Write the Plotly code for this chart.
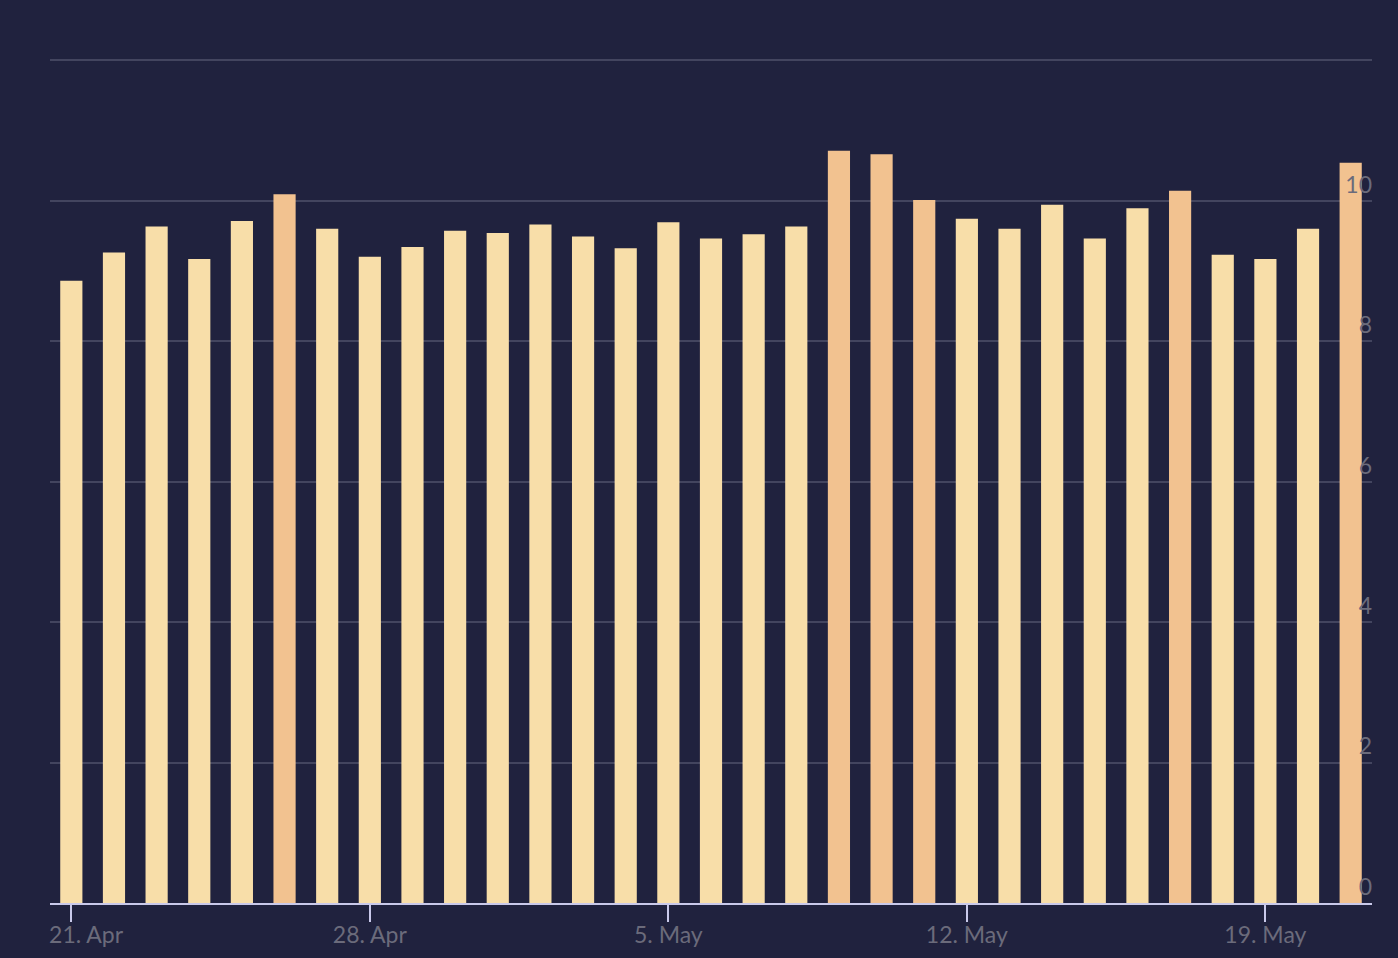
import plotly.graph_objects as go
import pandas as pd

dates = pd.date_range("2024-04-21", "2024-05-21", freq="D")
values = [8.86, 9.26, 9.63, 9.17, 9.71, 10.09, 9.60, 9.20, 9.34, 9.57,
          9.54, 9.66, 9.49, 9.32, 9.69, 9.46, 9.52, 9.63, 10.71, 10.66,
          10.01, 9.74, 9.60, 9.94, 9.46, 9.89, 10.14, 9.23, 9.17, 9.60, 10.54]
threshold = 10
light_color = "#f8dea9"
high_color = "#f2c290"
colors = [high_color if v >= threshold else light_color for v in values]

x_tickvals = ["2024-04-21", "2024-04-28", "2024-05-05", "2024-05-12", "2024-05-19"]
x_ticktext = ["\u00a0" * 5 + "21. Apr", "28. Apr", "5. May", "12. May", "19. May"]
y_tickvals = [0, 2, 4, 6, 8, 10, 12]
y_ticktext = ["0", "2", "4", "6", "8", "10", ""]

bg = "#20223e"
label_color = "#6b6b7b"
fig = go.Figure(go.Bar(x=dates, y=values, marker=dict(color=colors, line=dict(width=0))))

fig.update_layout(
    width=1398, height=958,
    paper_bgcolor=bg, plot_bgcolor=bg,
    margin=dict(l=50, r=26, t=58, b=55),
    bargap=0.48,
    showlegend=False,
    font=dict(family="Lato", size=23, color=label_color),
)
fig.update_xaxes(
    range=["2024-04-20 12:00", "2024-05-21 12:00"],
    tickvals=x_tickvals, ticktext=x_ticktext,
    showgrid=False, showline=True, linecolor="#c9c9ea", linewidth=2,
    ticks="outside", ticklen=17, tickwidth=2, tickcolor="#c9c9ea",
    ticklabelstandoff=-7,
    tickfont=dict(size=23, color=label_color),
    zeroline=False, automargin=False,
)
fig.update_yaxes(
    range=[0, 12.03],
    side="right",
    tickvals=y_tickvals, ticktext=y_ticktext,
    ticklabelposition="inside top",
    ticklabelstandoff=-3,
    showgrid=True, gridcolor="#43455f", gridwidth=1.5,
    zeroline=False, showline=False, ticks="",
    tickfont=dict(size=23, color=label_color),
    automargin=False,
)

fig.write_html(
    "out.html",
    config={"displayModeBar": False},
    post_script="document.body.style.margin='0';document.body.style.background='%s';" % bg,
)
